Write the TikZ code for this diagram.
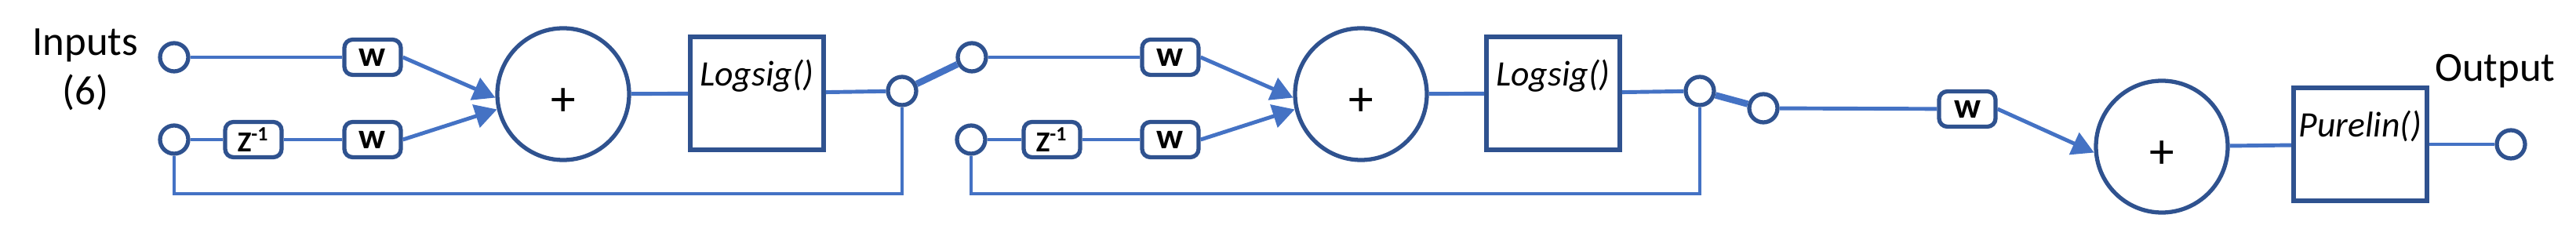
\documentclass[tikz,border=0pt]{standalone}
\usepackage{fontspec}
\setmainfont{Carlito}
\usepackage{tikz}
\usetikzlibrary{arrows.meta, positioning}
\definecolor{wireblue}{HTML}{4472C4}
\definecolor{edgeblue}{HTML}{2F528F}

\begin{document}
\begin{tikzpicture}[
    port/.style={circle, draw=edgeblue, line width=1.5pt, fill=white, minimum size=0.36cm, inner sep=0pt},
    wbox/.style={rectangle, rounded corners=3pt, draw=edgeblue, line width=1.5pt, fill=white, minimum width=0.72cm, minimum height=0.45cm, inner sep=1pt, font=\fontsize{13}{13}\selectfont\bfseries},
    zbox/.style={wbox, font=\fontsize{10.5}{10.5}\selectfont\bfseries},
    sumnode/.style={circle, draw=edgeblue, line width=1.5pt, fill=white, minimum size=1.68cm, inner sep=0pt, text height=0.55cm, text depth=0pt, font=\fontsize{18}{18}\selectfont},
    fnbox/.style={rectangle, draw=edgeblue, line width=1.6pt, fill=white, minimum width=1.70cm, minimum height=1.44cm, inner sep=0pt, text height=0.33cm, text depth=0.51cm, font=\fontsize{13}{13}\selectfont\itshape},
    tag/.style={align=center, font=\fontsize{15}{18}\selectfont},
    wire/.style={draw=wireblue, line width=1.4pt},
    feed/.style={wire, -{Triangle[length=2.8mm, width=3mm]}},
    switch/.style={wire, line width=2.4pt}
]
\useasboundingbox (0,0) rectangle (32.84,3.06);

% Layer 1
\node[tag] (inlbl) at (1.09,2.17) {Inputs\\(6)};
\node[port] (in1) at (2.22,2.33) {};
\node[port] (in2) at (2.22,1.28) {};
\node[zbox] (z1) at (3.23,1.28) {Z\textsuperscript{-1}};
\node[wbox] (w1) at (4.75,2.33) {w};
\node[wbox] (w2) at (4.75,1.28) {w};
\node[sumnode] (sum1) at (7.18,1.86) {+};
\node[fnbox] (lg1) at (9.65,1.87) {Logsig()};
\node[port] (j1) at (11.50,1.90) {};
\coordinate (fb1) at (11.50,0.59);

\draw[wire] (in1) -- (w1);
\draw[wire] (in2) -- (z1);
\draw[wire] (z1) -- (w2);
\draw[feed] (w1.east) -- (sum1.183);
\draw[feed] (w2.east) -- (sum1.193);
\draw[wire] (sum1) -- (lg1);
\draw[wire] (lg1) -- (j1);
\draw[wire] (j1.south) -- (fb1) -| (in2.south);

% Layer 2
\node[port] (in3) at (12.39,2.33) {};
\node[port] (in4) at (12.38,1.28) {};
\node[zbox] (z2) at (13.41,1.28) {Z\textsuperscript{-1}};
\node[wbox] (w3) at (14.92,2.33) {w};
\node[wbox] (w4) at (14.92,1.28) {w};
\node[sumnode] (sum2) at (17.35,1.86) {+};
\node[fnbox] (lg2) at (19.80,1.87) {Logsig()};
\node[port] (j2) at (21.67,1.90) {};
\coordinate (fb2) at (21.67,0.59);

\draw[switch] (j1) -- (in3);
\draw[wire] (in3) -- (w3);
\draw[wire] (in4) -- (z2);
\draw[wire] (z2) -- (w4);
\draw[feed] (w3.east) -- (sum2.183);
\draw[feed] (w4.east) -- (sum2.193);
\draw[wire] (sum2) -- (lg2);
\draw[wire] (lg2) -- (j2);
\draw[wire] (j2.south) -- (fb2) -| (in4.south);

% Output layer
\node[port] (in5) at (22.48,1.68) {};
\node[wbox] (w5) at (25.08,1.67) {w};
\node[sumnode] (sum3) at (27.56,1.19) {+};
\node[fnbox] (pl) at (30.09,1.22) {Purelin()};
\node[port] (out) at (32.01,1.22) {};
\node[tag, anchor=base] (outlbl) at (31.81,2.02) {Output};

\draw[switch] (j2) -- (in5);
\draw[wire] (in5) -- (w5);
\draw[feed] (w5.east) -- (sum3.185);
\draw[wire] (sum3) -- (pl);
\draw[wire] (pl) -- (out);

\end{tikzpicture}
\end{document}
